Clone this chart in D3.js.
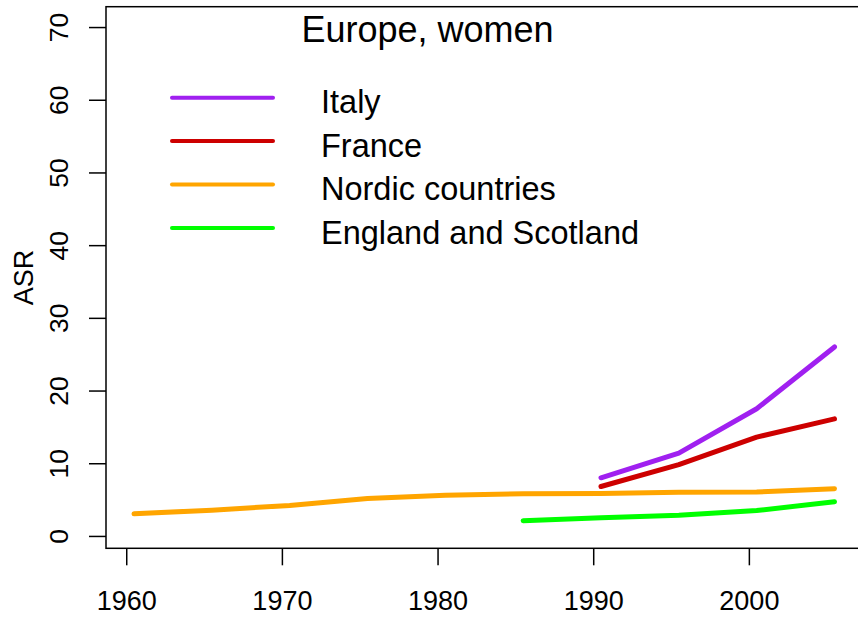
<!DOCTYPE html>
<html>
<head>
<meta charset="utf-8">
<script src="https://cdn.jsdelivr.net/npm/d3@7"></script>
<style>
  body { margin: 0; background: #fff; }
  svg { display: block; font-family: "Liberation Sans", Arial, Helvetica, sans-serif; }
</style>
</head>
<body>
<svg id="chart"></svg>
<script>
// data (period mid-years)
const years = [1960.5, 1965.5, 1970.5, 1975.5, 1980.5, 1985.5, 1990.5, 1995.5, 2000.5, 2005.5];
const nordic = [3.05, 3.55, 4.2, 5.15, 5.6, 5.8, 5.85, 6.0, 6.05, 6.5];
const italyYears = [1990.5, 1995.5, 2000.5, 2005.5];
const italy = [8.0, 11.4, 17.5, 26.0];
const franceYears = [1990.5, 1995.5, 2000.5, 2005.5];
const france = [6.8, 9.8, 13.6, 16.1];
const englandYears = [1985.5, 1990.5, 1995.5, 2000.5, 2005.5];
const england = [2.1, 2.5, 2.85, 3.5, 4.7];

const xTicks = [1960, 1970, 1980, 1990, 2000];
const yTicks = [0, 10, 20, 30, 40, 50, 60, 70];
const legendNames = ['Italy', 'France', 'Nordic countries', 'England and Scotland'];
const title = 'Europe, women';
const yLabel = 'ASR';

const series = [
  { name: 'Nordic countries', x: years, y: nordic, color: '#FFA500' },
  { name: 'France', x: franceYears, y: france, color: '#CD0000' },
  { name: 'Italy', x: italyYears, y: italy, color: '#A020F0' },
  { name: 'England and Scotland', x: englandYears, y: england, color: '#00FF00' }
];
const colorOf = name => series.find(s => s.name === name).color;

const config = {
  containerWidth: 858,
  containerHeight: 618,
  margin: { top: 6.7, left: 106 },
  width: 756.5,
  height: 541.6
};

const svg = d3.select('#chart')
  .attr('width', config.containerWidth)
  .attr('height', config.containerHeight);

const chart = svg.append('g')
  .attr('transform', `translate(${config.margin.left},${config.margin.top})`);

const xScale = d3.scaleLinear().domain([1958.7, 2007.3]).range([0, config.width]);
const yScale = d3.scaleLinear().domain([-1.7, 72.8]).range([config.height, 0]);

// x axis
const xAxis = d3.axisBottom(xScale)
  .tickValues(xTicks)
  .tickFormat(d3.format('d'))
  .tickSize(17)
  .tickPadding(26)
  .tickSizeOuter(0);
const xg = chart.append('g')
  .attr('transform', `translate(0,${config.height})`)
  .call(xAxis);
xg.select('.domain').remove();
xg.selectAll('line').attr('stroke', '#000').attr('stroke-width', 1.5);
xg.selectAll('text').attr('font-size', 27).attr('fill', '#000')
  .attr('font-family', '"Liberation Sans", Arial, sans-serif');

// y axis
const yAxis = d3.axisLeft(yScale)
  .tickValues(yTicks)
  .tickSize(17)
  .tickSizeOuter(0);
const yg = chart.append('g').call(yAxis);
yg.select('.domain').remove();
yg.selectAll('line').attr('stroke', '#000').attr('stroke-width', 1.5);
yg.selectAll('text')
  .attr('x', null).attr('dy', null)
  .attr('text-anchor', 'middle')
  .attr('transform', 'translate(-38,0) rotate(-90)')
  .attr('font-size', 26.5).attr('fill', '#000')
  .attr('font-family', '"Liberation Sans", Arial, sans-serif');

// box
chart.append('rect')
  .attr('x', 0).attr('y', 0)
  .attr('width', config.width).attr('height', config.height)
  .attr('fill', 'none').attr('stroke', '#000').attr('stroke-width', 1.5);

// y label
svg.append('text')
  .attr('transform', `translate(33,277.5) rotate(-90)`)
  .attr('text-anchor', 'middle')
  .attr('font-size', 27)
  .text(yLabel);

// lines
const line = d3.line()
  .x(d => xScale(d[0]))
  .y(d => yScale(d[1]));

chart.selectAll('.series')
  .data(series)
  .join('path')
  .attr('class', 'series')
  .attr('d', s => line(s.x.map((x, i) => [x, s.y[i]])))
  .attr('fill', 'none')
  .attr('stroke', s => s.color)
  .attr('stroke-width', 5)
  .attr('stroke-linecap', 'round')
  .attr('stroke-linejoin', 'round');

// title
svg.append('text')
  .attr('x', 427.5).attr('y', 41.7)
  .attr('text-anchor', 'middle')
  .attr('font-size', 36)
  .text(title);

// legend
const legend = svg.append('g').attr('transform', 'translate(172,97.7)');
const rows = legend.selectAll('g')
  .data(legendNames)
  .join('g')
  .attr('transform', (d, i) => `translate(0,${i * 43.4})`);
rows.append('line')
  .attr('x1', 0).attr('x2', 101)
  .attr('stroke', d => colorOf(d))
  .attr('stroke-width', 4)
  .attr('stroke-linecap', 'round');
rows.append('text')
  .attr('x', 149).attr('y', 15.6)
  .attr('font-size', 32.5)
  .text(d => d);
</script>
</body>
</html>
